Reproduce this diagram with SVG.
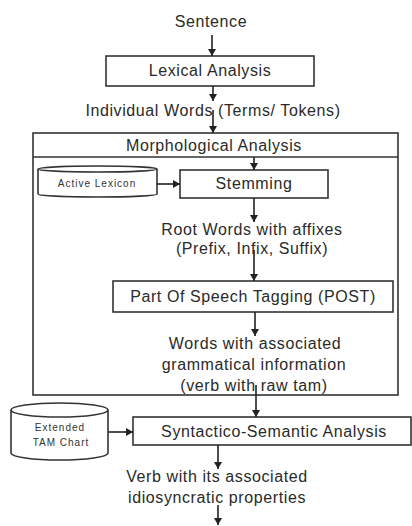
<svg xmlns="http://www.w3.org/2000/svg" width="412" height="526" viewBox="0 0 412 526">
<defs>
<marker id="ah" markerWidth="8" markerHeight="8" refX="7" refY="4" orient="auto" markerUnits="userSpaceOnUse">
<path d="M0,0 L7,4 L0,8 z" fill="#222"/>
</marker>
<style>
.box{fill:#fff;stroke:#333;stroke-width:1.6}
.t{font-family:"Liberation Sans",Arial,sans-serif;font-size:16px;letter-spacing:0.6px;fill:#2a2a2a;text-anchor:middle}
.s{font-family:"Liberation Sans",Arial,sans-serif;font-size:10px;letter-spacing:1px;fill:#333;text-anchor:middle}
.c{fill:none;stroke:#222;stroke-width:1.6;marker-end:url(#ah)}
</style>
</defs>
<rect width="412" height="526" fill="#fff"/>
<g id="morph-container">
<rect class="box" x="33" y="133" width="365" height="262"/>
<line x1="33" y1="157" x2="398" y2="157" stroke="#333" stroke-width="1.6"/>
<text class="t" x="214" y="151">Morphological Analysis</text>
</g>
<g id="sentence"><text class="t" x="211" y="27">Sentence</text></g>
<g id="lexical"><rect class="box" x="106" y="56" width="208" height="30"/><text class="t" x="210" y="76">Lexical Analysis</text></g>
<g id="words"><text class="t" x="213" y="116">Individual Words (Terms/ Tokens)</text></g>
<g id="lexicon">
<path class="box" d="M38,169 A59.5,3 0 0 1 157,169 L157,194 A59.5,3 0 0 1 38,194 Z"/>
<path d="M38,169 A59.5,3 0 0 0 157,169" fill="none" stroke="#333" stroke-width="1.6"/>
<text class="s" x="97" y="187">Active Lexicon</text>
</g>
<g id="stemming"><rect class="box" x="180" y="170" width="148" height="28"/><text class="t" x="254" y="189">Stemming</text></g>
<g id="root"><text class="t" x="252" y="235">Root Words with affixes</text><text class="t" x="252" y="254">(Prefix, Infix, Suffix)</text></g>
<g id="post"><rect class="box" x="113" y="281" width="280" height="31"/><text class="t" x="253" y="302">Part Of Speech Tagging (POST)</text></g>
<g id="gram"><text class="t" x="255" y="349">Words with associated</text><text class="t" x="254" y="370">grammatical information</text><text class="t" x="254" y="391">(verb with raw tam)</text></g>
<g id="tam">
<path class="box" d="M11,410 A48.5,7 0 0 1 108,410 L108,453 A48.5,7 0 0 1 11,453 Z"/>
<path d="M11,410 A48.5,7 0 0 0 108,410" fill="none" stroke="#333" stroke-width="1.6"/>
<text class="s" x="60" y="431">Extended</text>
<text class="s" x="61" y="446">TAM Chart</text>
</g>
<g id="syntactico"><rect class="box" x="133" y="417" width="278" height="28"/><text class="t" x="274" y="437">Syntactico-Semantic Analysis</text></g>
<g id="verb"><text class="t" x="217" y="482">Verb with its associated</text><text class="t" x="217" y="503">idiosyncratic properties</text></g>
<g id="connectors">
<line class="c" x1="212" y1="35" x2="212" y2="56"/>
<line class="c" x1="213" y1="86" x2="213" y2="101"/>
<line class="c" x1="213" y1="110" x2="213" y2="133"/>
<line class="c" x1="254" y1="157" x2="254" y2="170"/>
<line class="c" x1="157" y1="184" x2="180" y2="184"/>
<line class="c" x1="254" y1="198" x2="254" y2="222"/>
<line class="c" x1="254" y1="250" x2="254" y2="281"/>
<line class="c" x1="255" y1="312" x2="255" y2="336"/>
<line class="c" x1="256" y1="385" x2="256" y2="417"/>
<line class="c" x1="108" y1="432" x2="133" y2="432"/>
<line class="c" x1="218" y1="445" x2="218" y2="469"/>
<line class="c" x1="218" y1="505" x2="218" y2="525"/>
</g>
</svg>
